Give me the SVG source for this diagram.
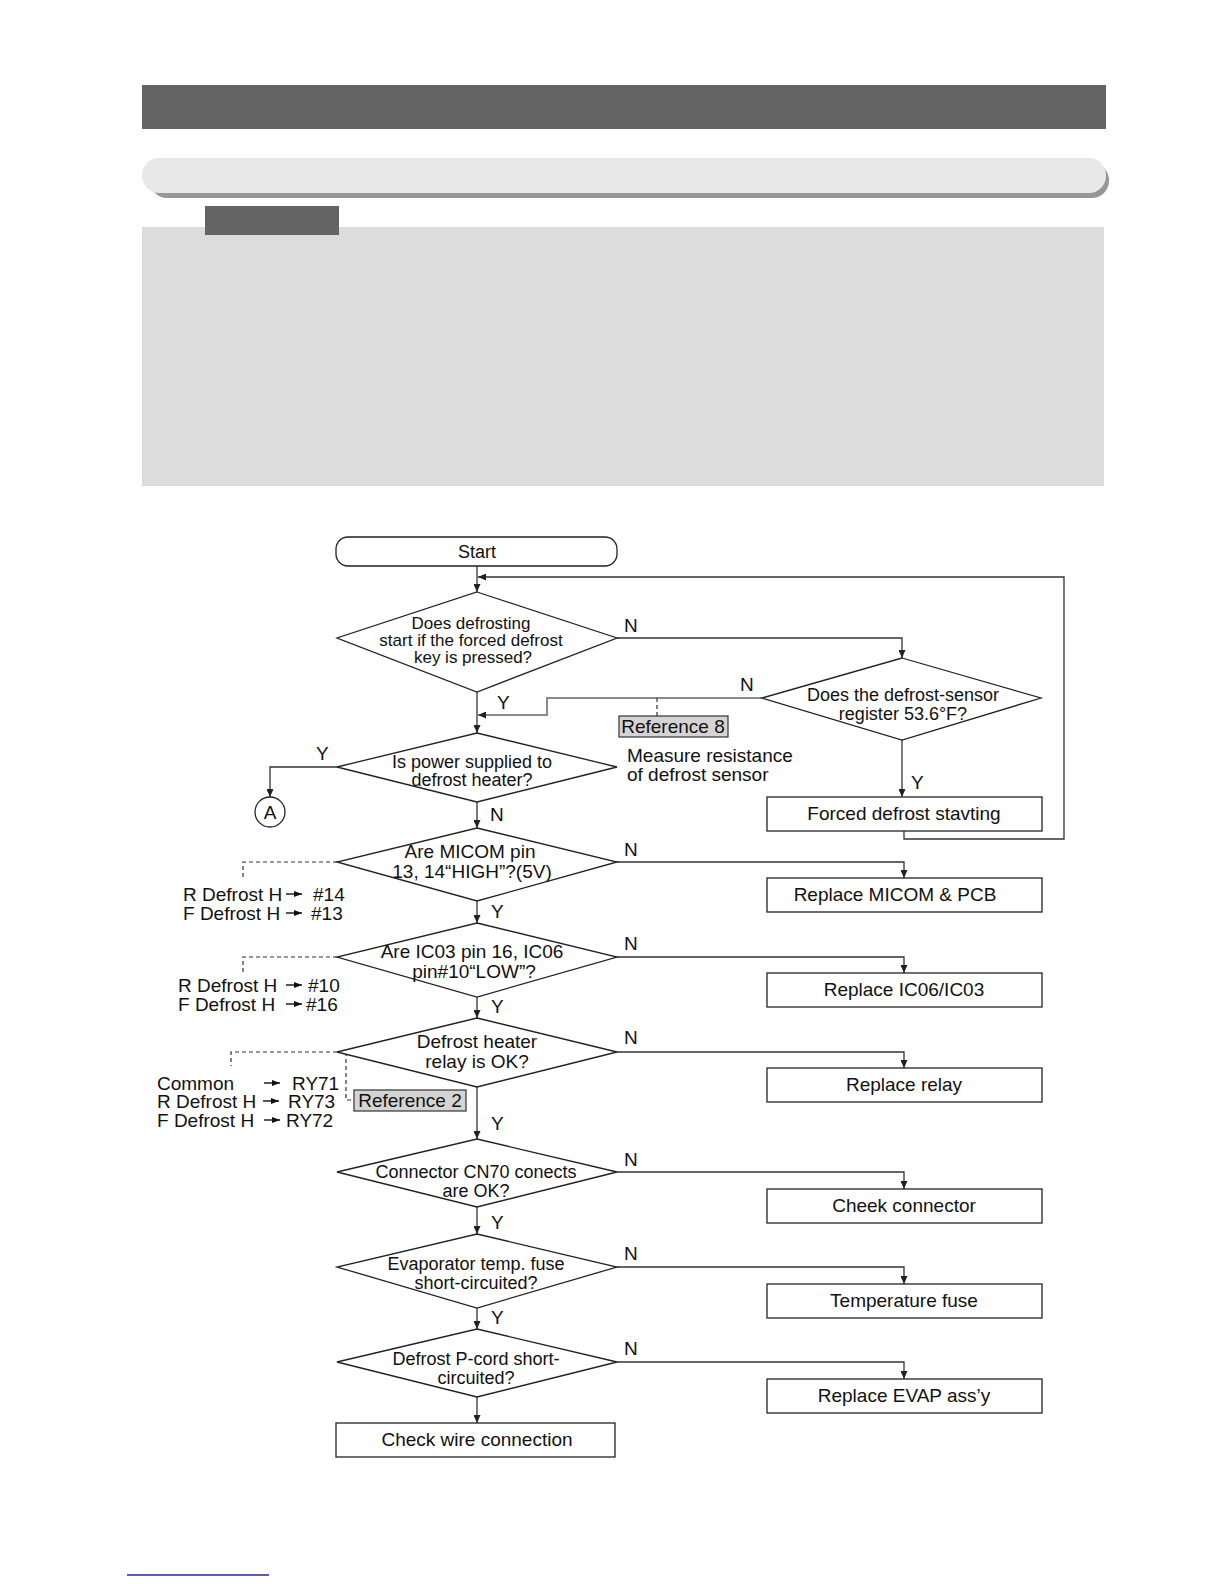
<svg xmlns="http://www.w3.org/2000/svg" width="1224" height="1584" viewBox="0 0 1224 1584">
<style>
.t{font-family:"Liberation Sans",Arial,sans-serif;font-size:18px;fill:#111;text-anchor:middle}
.b{font-size:19px}
.sm{font-size:17px}
.l{font-family:"Liberation Sans",Arial,sans-serif;font-size:19px;fill:#111;text-anchor:start}
.s{fill:#fff;stroke:#222;stroke-width:1.3}
.r{fill:#d4d4d4;stroke:#333;stroke-width:1.2}
.c{fill:none;stroke:#333;stroke-width:1.3}
.g{fill:none;stroke:#8a8a8a;stroke-width:2}
.d{fill:none;stroke:#333;stroke-width:1.2;stroke-dasharray:4 3}
.a{fill:none;stroke:#111;stroke-width:1.4}
</style>
<defs>
<marker id="ah" viewBox="0 0 8 7" refX="8" refY="3.5" markerWidth="8" markerHeight="7" markerUnits="userSpaceOnUse" orient="auto"><path d="M0,0 L8,3.5 L0,7 z" fill="#222"/></marker>
<marker id="sa" viewBox="0 0 8 6" refX="8" refY="3" markerWidth="8" markerHeight="6" markerUnits="userSpaceOnUse" orient="auto"><path d="M0,0 L8,3 L0,6 z" fill="#111"/></marker>
</defs>
<rect width="1224" height="1584" fill="#fff"/>
<g id="header">
<rect x="142" y="85" width="964" height="44" fill="#656465"/>
<rect x="150" y="163" width="959" height="35" rx="17" fill="#979797"/>
<rect x="142" y="158" width="964" height="35" rx="17" fill="#e8e8e8"/>
<rect x="142" y="227" width="962" height="259" fill="#dcdcdc"/>
<rect x="205" y="206" width="134" height="29" fill="#656465"/>
</g>
<g id="connectors">
<path class="c" d="M477,566 V592" marker-end="url(#ah)"/>
<path class="c" d="M904,831 V839 H1064 V577 H478" marker-end="url(#ah)"/>
<path class="c" d="M617,638 H902 V658" marker-end="url(#ah)"/>
<path class="c" d="M477,692 V733" marker-end="url(#ah)"/>
<path class="g" d="M762,698 H547 V715 H478" marker-end="url(#ah)"/>
<path class="d" d="M657,698 V716"/>
<path class="c" d="M902,740 V797" marker-end="url(#ah)"/>
<path class="c" d="M337,767 H270 V797" marker-end="url(#ah)"/>
<path class="c" d="M477,802 V828" marker-end="url(#ah)"/>
<path class="c" d="M617,862 H904 V878" marker-end="url(#ah)"/>
<path class="c" d="M477,901 V923" marker-end="url(#ah)"/>
<path class="c" d="M617,957 H904 V973" marker-end="url(#ah)"/>
<path class="c" d="M477,997 V1018" marker-end="url(#ah)"/>
<path class="c" d="M617,1052 H904 V1068" marker-end="url(#ah)"/>
<path class="c" d="M477,1087 V1139" marker-end="url(#ah)"/>
<path class="c" d="M617,1172 H904 V1189" marker-end="url(#ah)"/>
<path class="c" d="M477,1207 V1234" marker-end="url(#ah)"/>
<path class="c" d="M617,1267 H904 V1284" marker-end="url(#ah)"/>
<path class="c" d="M477,1308 V1329" marker-end="url(#ah)"/>
<path class="c" d="M617,1362 H904 V1379" marker-end="url(#ah)"/>
<path class="c" d="M477,1397 V1423" marker-end="url(#ah)"/>
<path class="d" d="M337,862 H243 V878"/>
<path class="d" d="M337,957 H243 V973"/>
<path class="d" d="M337,1052 H231 V1066"/>
<path class="d" d="M346,1052 V1100 H354"/>
</g>
<g id="edge-labels">
<text class="l" x="624" y="632">N</text>
<text class="l" x="740" y="691">N</text>
<text class="l" x="497" y="709">Y</text>
<text class="l" x="911" y="789">Y</text>
<text class="l" x="316" y="760">Y</text>
<text class="l" x="490" y="821">N</text>
<text class="l" x="624" y="856">N</text>
<text class="l" x="491" y="918">Y</text>
<text class="l" x="624" y="950">N</text>
<text class="l" x="491" y="1013">Y</text>
<text class="l" x="624" y="1044">N</text>
<text class="l" x="491" y="1130">Y</text>
<text class="l" x="624" y="1166">N</text>
<text class="l" x="491" y="1229">Y</text>
<text class="l" x="624" y="1260">N</text>
<text class="l" x="491" y="1324">Y</text>
<text class="l" x="624" y="1355">N</text>
</g>
<g id="start">
<rect class="s" x="336" y="537" width="281" height="29" rx="12"/>
<text class="t" x="477" y="558">Start</text>
</g>
<g id="q1">
<polygon class="s" points="477,592 617,638 477,692 337,638"/>
<text class="t sm" x="471" y="629">Does defrosting</text>
<text class="t sm" x="471" y="646">start if the forced defrost</text>
<text class="t sm" x="473" y="663">key is pressed?</text>
</g>
<g id="q2">
<polygon class="s" points="902,658 1041,698 902,740 762,698"/>
<text class="t" x="903" y="701">Does the defrost-sensor</text>
<text class="t" x="903" y="720">register 53.6°F?</text>
</g>
<g id="forced">
<rect class="s" x="767" y="797" width="275" height="34"/>
<text class="t b" x="904" y="820">Forced defrost stavting</text>
</g>
<g id="ref8">
<rect class="r" x="619" y="716" width="109" height="21"/>
<text class="t b" x="673" y="733">Reference 8</text>
</g>
<g id="measure">
<text class="l" x="627" y="762">Measure resistance</text>
<text class="l" x="627" y="781">of defrost sensor</text>
</g>
<g id="q3">
<polygon class="s" points="477,733 617,767 477,802 337,767"/>
<text class="t" x="472" y="768">Is power supplied to</text>
<text class="t" x="472" y="786">defrost heater?</text>
</g>
<g id="A">
<circle cx="270" cy="812" r="15" fill="#fff" stroke="#222" stroke-width="1.3"/>
<text class="t b" x="270" y="819">A</text>
</g>
<g id="q4">
<polygon class="s" points="477,828 617,862 477,901 337,862"/>
<text class="t b" x="470" y="858">Are MICOM pin</text>
<text class="t b" x="472" y="878">13, 14“HIGH”?(5V)</text>
</g>
<g id="note4">
<text class="l" x="183" y="901">R Defrost H</text><path class="a" d="M286,894 H302" marker-end="url(#sa)"/><text class="l" x="313" y="901">#14</text>
<text class="l" x="183" y="920">F Defrost H</text><path class="a" d="M286,913 H302" marker-end="url(#sa)"/><text class="l" x="311" y="920">#13</text>
</g>
<g id="micom">
<rect class="s" x="767" y="878" width="275" height="34"/>
<text class="t b" x="895" y="901">Replace MICOM &amp; PCB</text>
</g>
<g id="q5">
<polygon class="s" points="477,923 617,957 477,997 337,957"/>
<text class="t b" x="472" y="958">Are IC03 pin 16, IC06</text>
<text class="t b" x="474" y="978">pin#10“LOW”?</text>
</g>
<g id="note5">
<text class="l" x="178" y="992">R Defrost H</text><path class="a" d="M286,985 H302" marker-end="url(#sa)"/><text class="l" x="308" y="992">#10</text>
<text class="l" x="178" y="1011">F Defrost H</text><path class="a" d="M286,1004 H302" marker-end="url(#sa)"/><text class="l" x="306" y="1011">#16</text>
</g>
<g id="ic">
<rect class="s" x="767" y="973" width="275" height="34"/>
<text class="t b" x="904" y="996">Replace IC06/IC03</text>
</g>
<g id="q6">
<polygon class="s" points="477,1018 617,1052 477,1087 337,1052"/>
<text class="t b" x="477" y="1048">Defrost heater</text>
<text class="t b" x="477" y="1068">relay is OK?</text>
</g>
<g id="note6">
<text class="l" x="157" y="1090">Common</text><path class="a" d="M264,1083 H280" marker-end="url(#sa)"/><text class="l" x="292" y="1090">RY71</text>
<text class="l" x="157" y="1108">R Defrost H</text><path class="a" d="M263,1101 H279" marker-end="url(#sa)"/><text class="l" x="288" y="1108">RY73</text>
<text class="l" x="157" y="1127">F Defrost H</text><path class="a" d="M264,1120 H280" marker-end="url(#sa)"/><text class="l" x="286" y="1127">RY72</text>
</g>
<g id="ref2">
<rect class="r" x="354" y="1090" width="112" height="21"/>
<text class="t b" x="410" y="1107">Reference 2</text>
</g>
<g id="relay">
<rect class="s" x="767" y="1068" width="275" height="34"/>
<text class="t b" x="904" y="1091">Replace relay</text>
</g>
<g id="q7">
<polygon class="s" points="477,1139 617,1172 477,1207 337,1172"/>
<text class="t" x="476" y="1178">Connector CN70 conects</text>
<text class="t" x="476" y="1197">are OK?</text>
</g>
<g id="cheek">
<rect class="s" x="767" y="1189" width="275" height="34"/>
<text class="t b" x="904" y="1212">Cheek connector</text>
</g>
<g id="q8">
<polygon class="s" points="477,1234 617,1267 477,1308 337,1267"/>
<text class="t" x="476" y="1270">Evaporator temp. fuse</text>
<text class="t" x="476" y="1289">short-circuited?</text>
</g>
<g id="fuse">
<rect class="s" x="767" y="1284" width="275" height="34"/>
<text class="t b" x="904" y="1307">Temperature fuse</text>
</g>
<g id="q9">
<polygon class="s" points="477,1329 617,1362 477,1397 337,1362"/>
<text class="t" x="476" y="1365">Defrost P-cord short-</text>
<text class="t" x="476" y="1384">circuited?</text>
</g>
<g id="evap">
<rect class="s" x="767" y="1379" width="275" height="34"/>
<text class="t b" x="904" y="1402">Replace EVAP ass’y</text>
</g>
<g id="wire">
<rect class="s" x="336" y="1423" width="279" height="34"/>
<text class="t b" x="477" y="1446">Check wire connection</text>
</g>
<line x1="127" y1="1575" x2="269" y2="1575" stroke="#1f2a8a" stroke-width="1.5"/>
</svg>
